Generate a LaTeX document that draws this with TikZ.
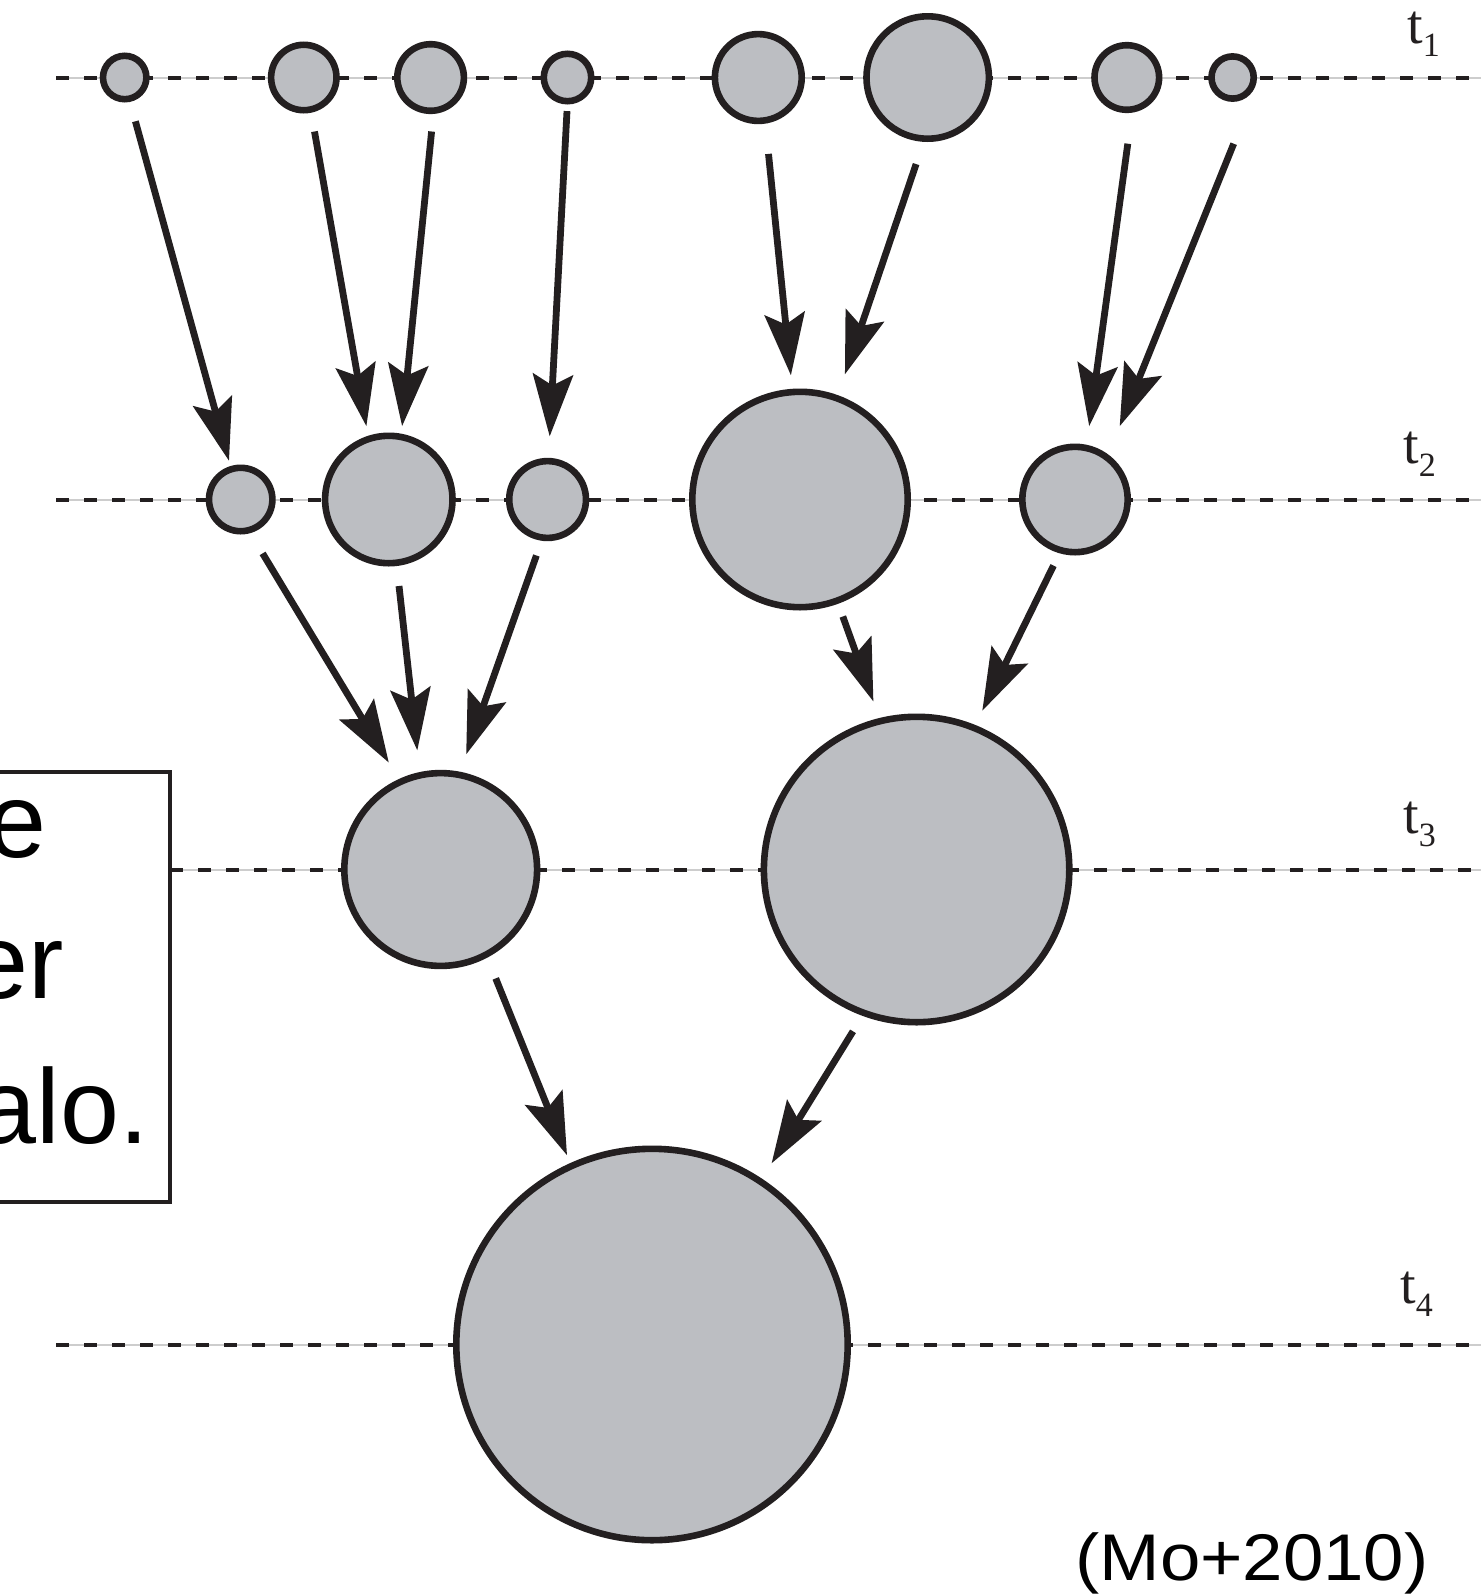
\documentclass[tikz,border=0pt]{standalone}
\usepackage{fontspec}
\setmainfont{Liberation Serif}
\newfontfamily\boxfont{Liberation Sans}
\usetikzlibrary{arrows.meta}
\definecolor{blobfill}{RGB}{188,190,194}
\definecolor{ink}{RGB}{35,31,32}
\definecolor{guidegray}{RGB}{205,205,205}
\newcommand{\tlabel}[1]{{\fontsize{28}{28}\selectfont t}\raisebox{-6.5pt}{\fontsize{17}{17}\selectfont #1}}
\begin{document}
\begin{tikzpicture}[x=0.5pt,y=-0.5pt,
  blob/.style={circle, draw=ink, fill=blobfill, line width=3.3pt, inner sep=0pt, outer sep=0pt},
  arr/.style={draw=ink, line width=3.4pt, -{Stealth[length=31pt, width=20pt, inset=5.5pt]}},
  guideline/.style={draw=guidegray, line width=1pt},
  guidedash/.style={draw=ink, line width=2pt, dash pattern=on 6.5pt off 7.5pt},
  tlab/.style={anchor=base west, inner sep=0pt, text=ink},
  boxtext/.style={anchor=base east, inner sep=0pt, font=\boxfont\fontsize{53}{60}\selectfont, text=black}]
\useasboundingbox (0,0) rectangle (1481,1596);
\fill[white] (0,0) rectangle (1481,1596);
\clip (0,0) rectangle (1481,1596);

% time lines
\coordinate (g1a) at (56,77.5);   \coordinate (g1b) at (1481,77.5);
\coordinate (g2a) at (56,499.5);  \coordinate (g2b) at (1481,499.5);
\coordinate (g3a) at (170,869.5); \coordinate (g3b) at (1481,869.5);
\coordinate (g4a) at (56,1344.5); \coordinate (g4b) at (1481,1344.5);
\foreach \i in {1,2,3,4}{
  \draw[guideline] (g\i a) -- (g\i b);
  \draw[guidedash] (g\i a) -- (g\i b);
}

% time labels
\node[tlab] (t1) at (1407,43)  {\tlabel{1}};
\node[tlab] (t2) at (1403,463) {\tlabel{2}};
\node[tlab] (t3) at (1403,833) {\tlabel{3}};
\node[tlab] (t4) at (1400,1303) {\tlabel{4}};

% text box (cut at left edge)
\draw[ink, line width=2pt, fill=white] (-20,771.7) rectangle (170,1201.7);
\node[boxtext] (bx1) at (47,857) {e};
\node[boxtext] (bx2) at (64,998) {er};
\node[boxtext] (bx3) at (149,1143) {alo.};

% halos t1
\node[blob, minimum size=21.7pt] (c1) at (124.7,77.5) {};
\node[blob, minimum size=32.7pt] (c2) at (303.8,77.5) {};
\node[blob, minimum size=33.3pt] (c3) at (430.6,77.5) {};
\node[blob, minimum size=23.7pt] (c4) at (567.5,77.5) {};
\node[blob, minimum size=43.4pt] (c5) at (758.3,77.5) {};
\node[blob, minimum size=61.2pt] (c6) at (927.7,77.5) {};
\node[blob, minimum size=32.3pt] (c7) at (1126.8,77.5) {};
\node[blob, minimum size=21.1pt] (c8) at (1232.6,77.5) {};
% halos t2
\node[blob, minimum size=31.7pt] (d1) at (240.7,499.5) {};
\node[blob, minimum size=63.7pt] (d2) at (388.8,499.5) {};
\node[blob, minimum size=38.4pt] (d3) at (547.6,499.5) {};
\node[blob, minimum size=107.7pt] (d4) at (800,499.5) {};
\node[blob, minimum size=52.7pt] (d5) at (1075,499.5) {};
% halos t3
\node[blob, minimum size=96.4pt] (e1) at (440.7,869.5) {};
\node[blob, minimum size=152.7pt] (e2) at (916.6,869.5) {};
% halo t4
\node[blob, minimum size=195.7pt] (f1) at (652,1344.5) {};

% mergers t1 -> t2
\draw[arr] ([shift={(10.7,43.8)}]c1.center) -- ([shift={(-11.7,-38.7)}]d1.center);
\draw[arr] ([shift={(10.7,54)}]c2.center) -- ([shift={(-22.4,-73.3)}]d2.center);
\draw[arr] ([shift={(1,54)}]c3.center) -- ([shift={(13.3,-73.3)}]d2.center);
\draw[arr] ([shift={(-0.5,33.6)}]c4.center) -- ([shift={(2.1,-63.1)}]d3.center);
\draw[arr] ([shift={(10.2,76.4)}]c5.center) -- ([shift={(-9.1,-124.2)}]d4.center);
\draw[arr] ([shift={(-11.6,86.6)}]c6.center) -- ([shift={(44.9,-125.2)}]d4.center);
\draw[arr] ([shift={(1,66.2)}]c7.center) -- ([shift={(14.2,-73.3)}]d5.center);
\draw[arr] ([shift={(1.1,66.2)}]c8.center) -- ([shift={(44.7,-73.3)}]d5.center);
% mergers t2 -> t3
\draw[arr] ([shift={(21.9,53.9)}]d1.center) -- ([shift={(-51.9,-106.9)}]e1.center);
\draw[arr] ([shift={(10.2,86.5)}]d2.center) -- ([shift={(-23.4,-119.1)}]e1.center);
\draw[arr] ([shift={(-11.2,56)}]d3.center) -- ([shift={(25.5,-115.1)}]e1.center);
\draw[arr] ([shift={(42.8,117)}]d4.center) -- ([shift={(-43.2,-168)}]e2.center);
\draw[arr] ([shift={(-21.5,66.1)}]d5.center) -- ([shift={(65.7,-158.8)}]e2.center);
% mergers t3 -> t4
\draw[arr] ([shift={(55,108.9)}]e1.center) -- ([shift={(-85,-189.3)}]f1.center);
\draw[arr] ([shift={(-63.6,161.8)}]e2.center) -- ([shift={(119.6,-181.2)}]f1.center);

% reference
\node[anchor=base west, inner sep=0pt, text=black] (ref) at (1075,1580)
  {\scalebox{1.1}[1]{\boxfont\fontsize{33}{40}\selectfont (Mo+2010)}};
\end{tikzpicture}
\end{document}
